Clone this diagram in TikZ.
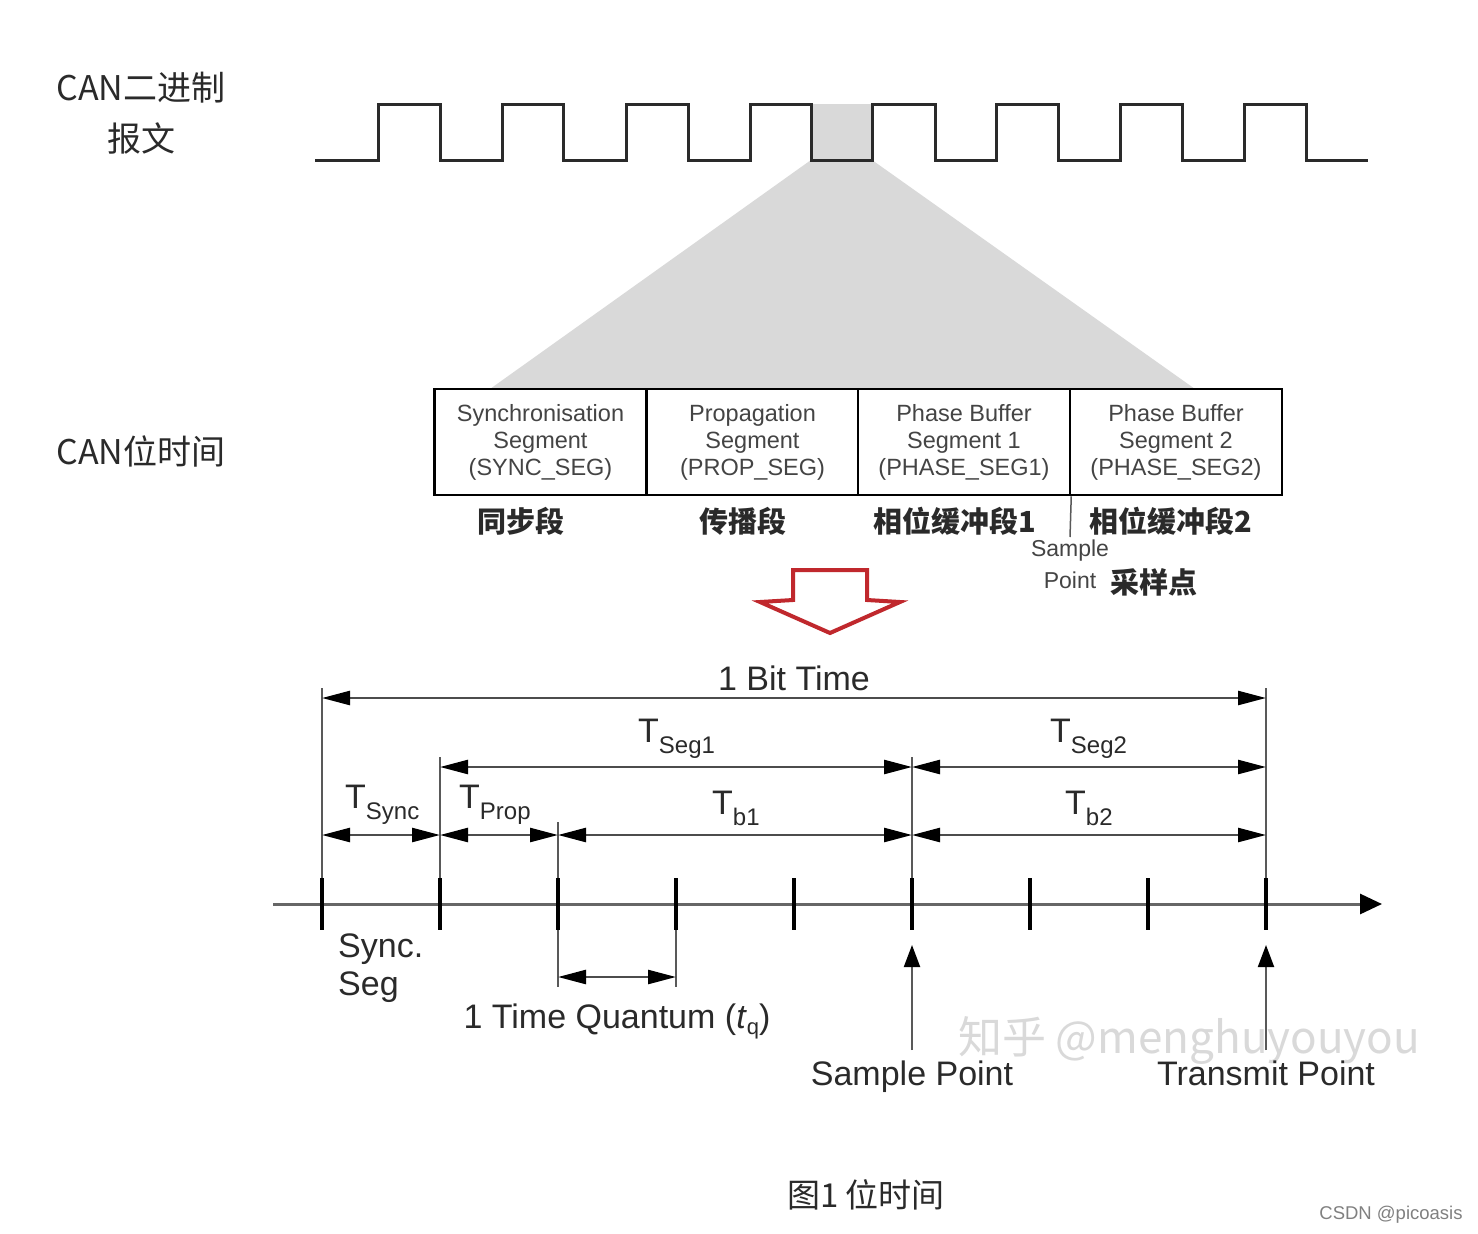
\documentclass[tikz,border=0pt]{standalone}
\usepackage{fontspec}
\setmainfont{Liberation Sans}
\newfontfamily\cjk{Noto Sans CJK SC}
\usetikzlibrary{arrows.meta,calc}
\definecolor{zoomgrey}{HTML}{D9D9D9}
\definecolor{ink}{HTML}{2A2A2A}
\definecolor{boxtext}{HTML}{444444}
\definecolor{arrowred}{HTML}{C0282D}
\newcommand{\Tsub}[1]{T{\fontsize{24}{24}\selectfont\raisebox{-11pt}{#1}}}
\tikzset{
  seg/.style={draw=black, line width=2.5pt, fill=white, minimum width=212pt,
    minimum height=106pt, inner sep=0pt, align=center,
    font=\fontsize{23.5}{27}\selectfont, text=boxtext},
  cjklab/.style={font=\cjk\bfseries\fontsize{29}{30}\selectfont, text=ink},
  sidelab/.style={font=\cjk\fontsize{34}{36}\selectfont, text=ink},
  lab/.style={font=\fontsize{34}{40}\selectfont, text=ink, inner sep=0pt},
  small/.style={font=\fontsize{23}{27}\selectfont, text=boxtext, inner sep=0pt},
  dim/.style={draw=black!70, line width=2.5pt,
    {Triangle[length=28pt,width=14pt,color=black]}-{Triangle[length=28pt,width=14pt,color=black]}},
  guide/.style={draw=black!65, line width=2pt},
  tickmark/.style={draw=black, line width=4pt},
  wave/.style={draw=ink, line width=3pt, line join=miter},
}
\begin{document}
\begin{tikzpicture}[x=1pt,y=-1pt]
\useasboundingbox (0,0) rectangle (1478,1234);
\fill[white] (0,0) rectangle (1478,1234);

% zoom shading
\fill[zoomgrey] (811,160) -- (872,160) -- (1195,389) -- (490,389) -- cycle;
\fill[zoomgrey] (811,104) rectangle (872,160);

% waveform
\draw[wave] (315,160) -| (378,104) -| (440,160) -| (502,104) -| (563,160)
  -| (626,104) -| (688,160) -| (750,104) -| (811,160) -| (872,104)
  -| (935,160) -| (996,104) -| (1058,160) -| (1120,104) -| (1182,160)
  -| (1244,104) -| (1306,160) -- (1368,160);

% left labels
\node[sidelab] (lab1) at (141,88) {CAN二进制};
\node[sidelab] (lab2) at (141,138) {报文};
\node[sidelab] (lab3) at (141,451) {CAN位时间};

% segment boxes
\node[seg] (sync) at (540.5,442) {Synchronisation\\Segment\\(SYNC\_SEG)};
\node[seg] (prop) at (752.5,442) {Propagation\\Segment\\(PROP\_SEG)};
\node[seg] (ph1) at (964,442) {Phase Buffer\\Segment 1\\(PHASE\_SEG1)};
\node[seg] (ph2) at (1176,442) {Phase Buffer\\Segment 2\\(PHASE\_SEG2)};

\node[cjklab] (c1) at (521,521) {同步段};
\node[cjklab] (c2) at (743,521) {传播段};
\node[cjklab] (c3) at (955,521) {相位缓冲段1};
\node[cjklab] (c4) at (1171,521) {相位缓冲段2};

\coordinate (spb) at (1070,537);
\draw[guide, line width=1.5pt] (ph1.south east) -- (spb);
\node[small] (sp1) at (1070,551) {Sample};
\node[small] (sp2) at (1070,580) {Point};
\node[cjklab] (sp3) at (1154,582) {采样点};

% red arrow
\draw[arrowred, line width=4pt, line join=miter]
  (793,570) -- (867,570) -- (867,600) -- (900,602) -- (830,633)
  -- (760,602) -- (793,600) -- cycle;

% timing diagram
\foreach \i in {0,...,8} \coordinate (t\i) at ({322+118*\i},904);
\coordinate (axL) at (273,904);
\coordinate (axR) at (1382,904);
\coordinate (r1) at (0,698);
\coordinate (r2) at (0,767);
\coordinate (r3) at (0,835);
\coordinate (rq) at (0,977);
\coordinate (gtop1) at (0,688);
\coordinate (gtop2) at (0,757);
\coordinate (gtop3) at (0,822);
\coordinate (tkT) at (0,878);
\coordinate (tkB) at (0,930);
\coordinate (qB) at (0,987);
\coordinate (pB) at (0,1050);
\coordinate (pT) at (0,945);

\draw[draw=black!60, line width=3pt, -{Triangle[length=22pt,width=20pt,color=black]}] (axL) -- (axR);
\foreach \i in {0,...,8} \draw[tickmark] (t\i |- tkT) -- (t\i |- tkB);

\draw[guide] (t0 |- gtop1) -- (t0 |- tkT);
\draw[guide] (t8 |- gtop1) -- (t8 |- tkT);
\draw[guide] (t1 |- gtop2) -- (t1 |- tkT);
\draw[guide] (t5 |- gtop2) -- (t5 |- tkT);
\draw[guide] (t2 |- gtop3) -- (t2 |- tkT);
\draw[guide] (t2 |- tkB) -- (t2 |- qB);
\draw[guide] (t3 |- tkB) -- (t3 |- qB);

\draw[dim] (t0 |- r1) -- (t8 |- r1);
\draw[dim] (t1 |- r2) -- (t5 |- r2);
\draw[dim] (t5 |- r2) -- (t8 |- r2);
\draw[dim] (t0 |- r3) -- (t1 |- r3);
\draw[dim] (t1 |- r3) -- (t2 |- r3);
\draw[dim] (t2 |- r3) -- (t5 |- r3);
\draw[dim] (t5 |- r3) -- (t8 |- r3);
\draw[dim] (t2 |- rq) -- (t3 |- rq);

\draw[guide, -{Triangle[length=22pt,width=16pt,color=black]}] (t5 |- pB) -- (t5 |- pT);
\draw[guide, -{Triangle[length=22pt,width=16pt,color=black]}] (t8 |- pB) -- (t8 |- pT);

\node[lab, anchor=base] (bit) at (794,690) {1 Bit Time};
\node[lab, anchor=base west] (ts1) at (638,742) {\Tsub{Seg1}};
\node[lab, anchor=base west] (ts2) at (1050,742) {\Tsub{Seg2}};
\node[lab, anchor=base west] (tsy) at (345,808) {\Tsub{Sync}};
\node[lab, anchor=base west] (tpr) at (459,808) {\Tsub{Prop}};
\node[lab, anchor=base west] (tb1) at (712,814) {\Tsub{b1}};
\node[lab, anchor=base west] (tb2) at (1065,814) {\Tsub{b2}};

\node[lab, anchor=base west] (ss1) at (338,957) {Sync.};
\node[lab, anchor=base west] (ss2) at (338,995) {Seg};
\node[lab, anchor=base] (tq) at (617,1028) {1 Time Quantum (\textit{t}{\fontsize{22}{22}\selectfont\raisebox{-6pt}{q}})};

\node[font=\cjk\fontsize{44}{46}\selectfont, text=black!15] (wm) at (1189,1040) {知乎 @menghuyouyou};

\node[lab, anchor=base] (spl) at (912,1085) {Sample Point};
\node[lab, anchor=base] (tpl) at (1266,1085) {Transmit Point};

\node[font=\cjk\fontsize{33}{35}\selectfont, text=ink] (cap) at (866,1195) {图1 位时间};
\node[font=\fontsize{18.5}{20}\selectfont, text=black!50] (csdn) at (1391,1215) {CSDN @picoasis};
\end{tikzpicture}
\end{document}
